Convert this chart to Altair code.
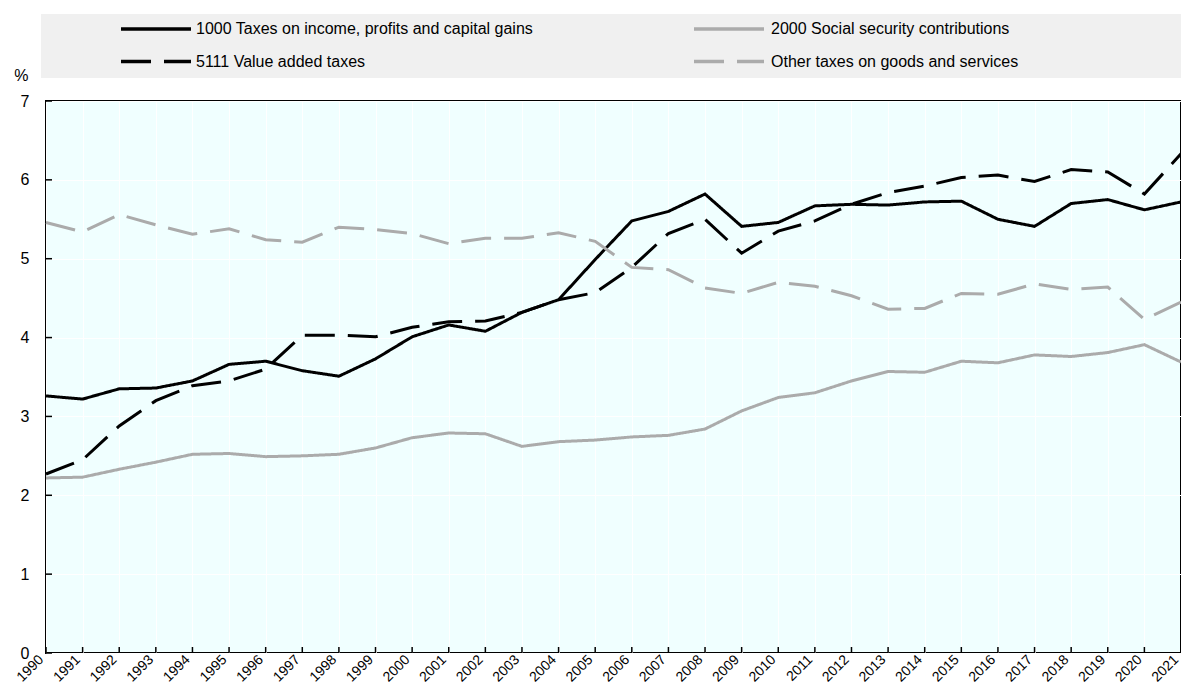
import altair as alt
import pandas as pd

years = list(range(1990, 2022))
series_names = [
    "1000 Taxes on income, profits and capital gains",
    "2000 Social security contributions",
    "5111 Value added taxes",
    "Other taxes on goods and services",
]
income = [3.26, 3.22, 3.35, 3.36, 3.45, 3.66, 3.70, 3.58, 3.51, 3.73, 4.01, 4.16, 4.08, 4.32, 4.48, 4.99,
          5.48, 5.60, 5.82, 5.41, 5.46, 5.67, 5.69, 5.68, 5.72, 5.73, 5.50, 5.41, 5.70, 5.75, 5.62, 5.72]
social = [2.22, 2.23, 2.33, 2.42, 2.52, 2.53, 2.49, 2.50, 2.52, 2.60, 2.73, 2.79, 2.78, 2.62, 2.68, 2.70,
          2.74, 2.76, 2.84, 3.07, 3.24, 3.30, 3.45, 3.57, 3.56, 3.70, 3.68, 3.78, 3.76, 3.81, 3.91, 3.69]
vat = [2.27, 2.45, 2.88, 3.20, 3.39, 3.45, 3.60, 4.03, 4.03, 4.01, 4.13, 4.20, 4.21, 4.32, 4.48, 4.57,
       4.89, 5.32, 5.50, 5.07, 5.35, 5.48, 5.69, 5.84, 5.92, 6.03, 6.06, 5.98, 6.13, 6.10, 5.82, 6.33]
other = [5.46, 5.34, 5.56, 5.43, 5.31, 5.38, 5.24, 5.21, 5.40, 5.37, 5.32, 5.19, 5.26, 5.26, 5.33, 5.22,
         4.89, 4.86, 4.63, 4.56, 4.70, 4.65, 4.53, 4.36, 4.37, 4.56, 4.55, 4.68, 4.61, 4.64, 4.23, 4.45]
y_ticks = list(range(0, 8))

colors = ["#000000", "#ABABAB", "#000000", "#ABABAB"]
dashes = [[1, 0], [1, 0], [30, 13], [30, 13]]

FONT = "Liberation Sans, Arial, sans-serif"

rows = []
for name, vals in zip(series_names, [income, social, vat, other]):
    for yr, v in zip(years, vals):
        rows.append({"year": yr, "value": v, "series": name})
df = pd.DataFrame(rows)

W, H = 1135, 552

x_scale = alt.Scale(domain=[1990, 2021], nice=False, zero=False)
y_scale = alt.Scale(domain=[0, 7], nice=False, zero=True)
x_axis = alt.Axis(values=years, format="d", labelAngle=-45, labelAlign="right", labelBaseline="bottom",
                  labelPadding=9, ticks=False, domain=False, grid=True, gridColor="white", gridWidth=1,
                  title=None, labelFont=FONT, labelFontSize=14, labelColor="black", labelOverlap=False)
y_axis = alt.Axis(values=y_ticks, title="%", titleAngle=0, titleX=-18, titleY=-26, titleAlign="right",
                  titleBaseline="middle", titleFont=FONT, titleFontSize=16, titleFontWeight="normal",
                  titleColor="black", labelPadding=17, ticks=False, domain=False, grid=True,
                  gridColor="white", gridWidth=1, labelFont=FONT, labelFontSize=16, labelColor="black")

lines = alt.Chart(df).mark_line(strokeWidth=3, strokeCap="butt").encode(
    x=alt.X("year:Q", scale=x_scale, axis=x_axis),
    y=alt.Y("value:Q", scale=y_scale, axis=y_axis),
    color=alt.Color("series:N", scale=alt.Scale(domain=series_names, range=colors), legend=None),
    strokeDash=alt.StrokeDash("series:N", scale=alt.Scale(domain=series_names, range=dashes), legend=None),
    detail="series:N",
)

ytick_layer = alt.Chart(pd.DataFrame({"value": y_ticks})).mark_rule(color="black", strokeWidth=1.5).encode(
    y=alt.Y("value:Q", scale=y_scale, axis=y_axis), x=alt.value(0), x2=alt.value(6)
)
xtick_layer = alt.Chart(pd.DataFrame({"year": years})).mark_rule(color="black", strokeWidth=1.5).encode(
    x=alt.X("year:Q", scale=x_scale, axis=x_axis), y=alt.value(H), y2=alt.value(H - 6)
)

legend_bg = alt.Chart(pd.DataFrame({"a": [0]})).mark_rect(color="#F0F0F0").encode(
    x=alt.value(-5), x2=alt.value(W), y=alt.value(-87), y2=alt.value(-23)
)

legend_layers = [legend_bg]
sym_x = [75, 648]
txt_x = [150, 725]
row_y = [-72, -39.5]
for i, name in enumerate(series_names):
    col, row = i % 2, i // 2
    d = pd.DataFrame({"series": [name]})
    legend_layers.append(
        alt.Chart(d).mark_rule(color=colors[i], strokeWidth=3.5, strokeDash=dashes[i], strokeCap="butt").encode(
            x=alt.value(sym_x[col]), x2=alt.value(sym_x[col] + 70), y=alt.value(row_y[row])
        )
    )
    legend_layers.append(
        alt.Chart(d).mark_text(align="left", baseline="middle", font=FONT, fontSize=16, color="black").encode(
            x=alt.value(txt_x[col]), y=alt.value(row_y[row]), text="series:N"
        )
    )

chart = alt.layer(lines, ytick_layer, xtick_layer, *legend_layers).properties(
    width=W, height=H,
    autosize=alt.AutoSizeParams(type="none"),
    padding={"left": 38, "top": 93, "right": 0, "bottom": 34},
).configure_view(fill="#F0FFFF", stroke="black", strokeWidth=2)

chart.save("out.html", embed_options={"renderer": "svg", "actions": False})
